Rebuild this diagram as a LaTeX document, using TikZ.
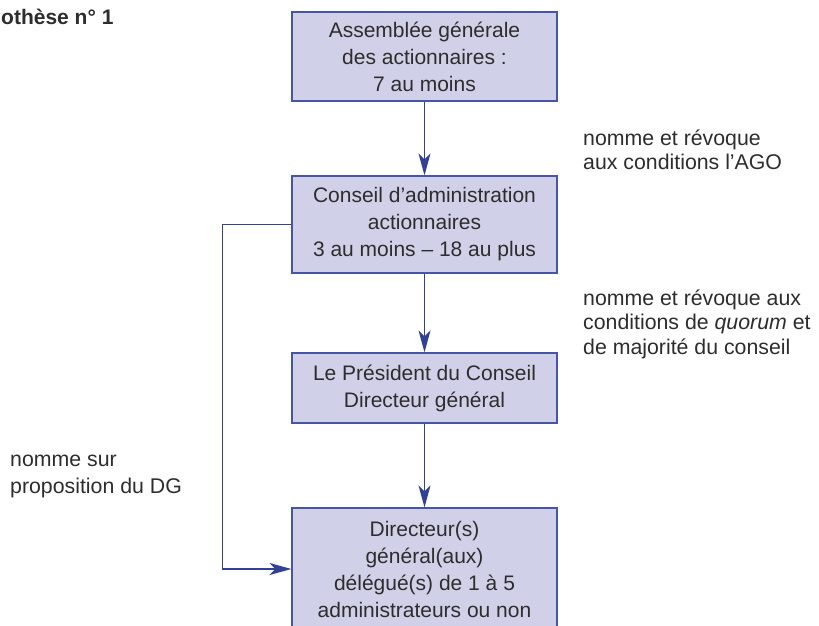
\documentclass[tikz,border=0pt]{standalone}
\usepackage{fontspec}
\setmainfont{Liberation Sans}
\usetikzlibrary{arrows.meta}
\definecolor{boxfill}{RGB}{208,208,232}
\definecolor{boxline}{RGB}{70,85,165}
\definecolor{arrowc}{RGB}{50,65,150}
\definecolor{txt}{RGB}{45,45,45}
\begin{document}
\begin{tikzpicture}[x=1pt,y=-1pt,
  box/.style={draw=boxline, line width=1.2pt, fill=boxfill, minimum width=265pt,
    align=center, text=txt, font=\fontsize{21}{27}\selectfont, inner sep=0pt},
  lab/.style={align=left, text=txt, inner sep=0pt, anchor=base west},
  arr/.style={draw=arrowc, line width=1.4pt, -{Stealth[length=22pt,width=12pt,inset=6pt]}}]
\useasboundingbox (0,0) rectangle (819,626);
\clip (0,0) rectangle (819,626);
\fill[white] (0,0) rectangle (819,626);

\node[lab, font=\fontsize{21}{24}\selectfont\bfseries] (title) at (1,25) {othèse n° 1};

\node[box, minimum height=89pt] (b1) at (424.5,56.5)
  {Assemblée générale\\des actionnaires :\\7 au moins};
\node[box, minimum height=97pt] (b2) at (424.5,224.5)
  {Conseil d’administration\\actionnaires\\3 au moins – 18 au plus};
\node[box, minimum height=70pt] (b3) at (424.5,388)
  {Le Président du Conseil\\Directeur général};
\node[box, minimum height=122pt] (b4) at (424.5,569)
  {Directeur(s)\\général(aux)\\délégué(s) de 1 à 5\\administrateurs ou non};

\node[lab, font=\fontsize{21.3}{23.5}\selectfont] (l1) at (583,169)
  {nomme et révoque\\aux conditions l’AGO};
\node[lab, font=\fontsize{21.3}{24.5}\selectfont] (l2) at (583,354)
  {nomme et révoque aux\\conditions de \textit{quorum} et\\de majorité du conseil};
\node[lab, font=\fontsize{21.3}{27}\selectfont] (l3) at (10,493)
  {nomme sur\\proposition du DG};

\draw[arr] (b1.south) -- (b2.north);
\draw[arr] (b2.south) -- (b3.north);
\draw[arr] (b3.south) -- (b4.north);
\draw[arr] (b2.west) -- ++(-69,0) |- (b4.west);
\end{tikzpicture}
\end{document}
